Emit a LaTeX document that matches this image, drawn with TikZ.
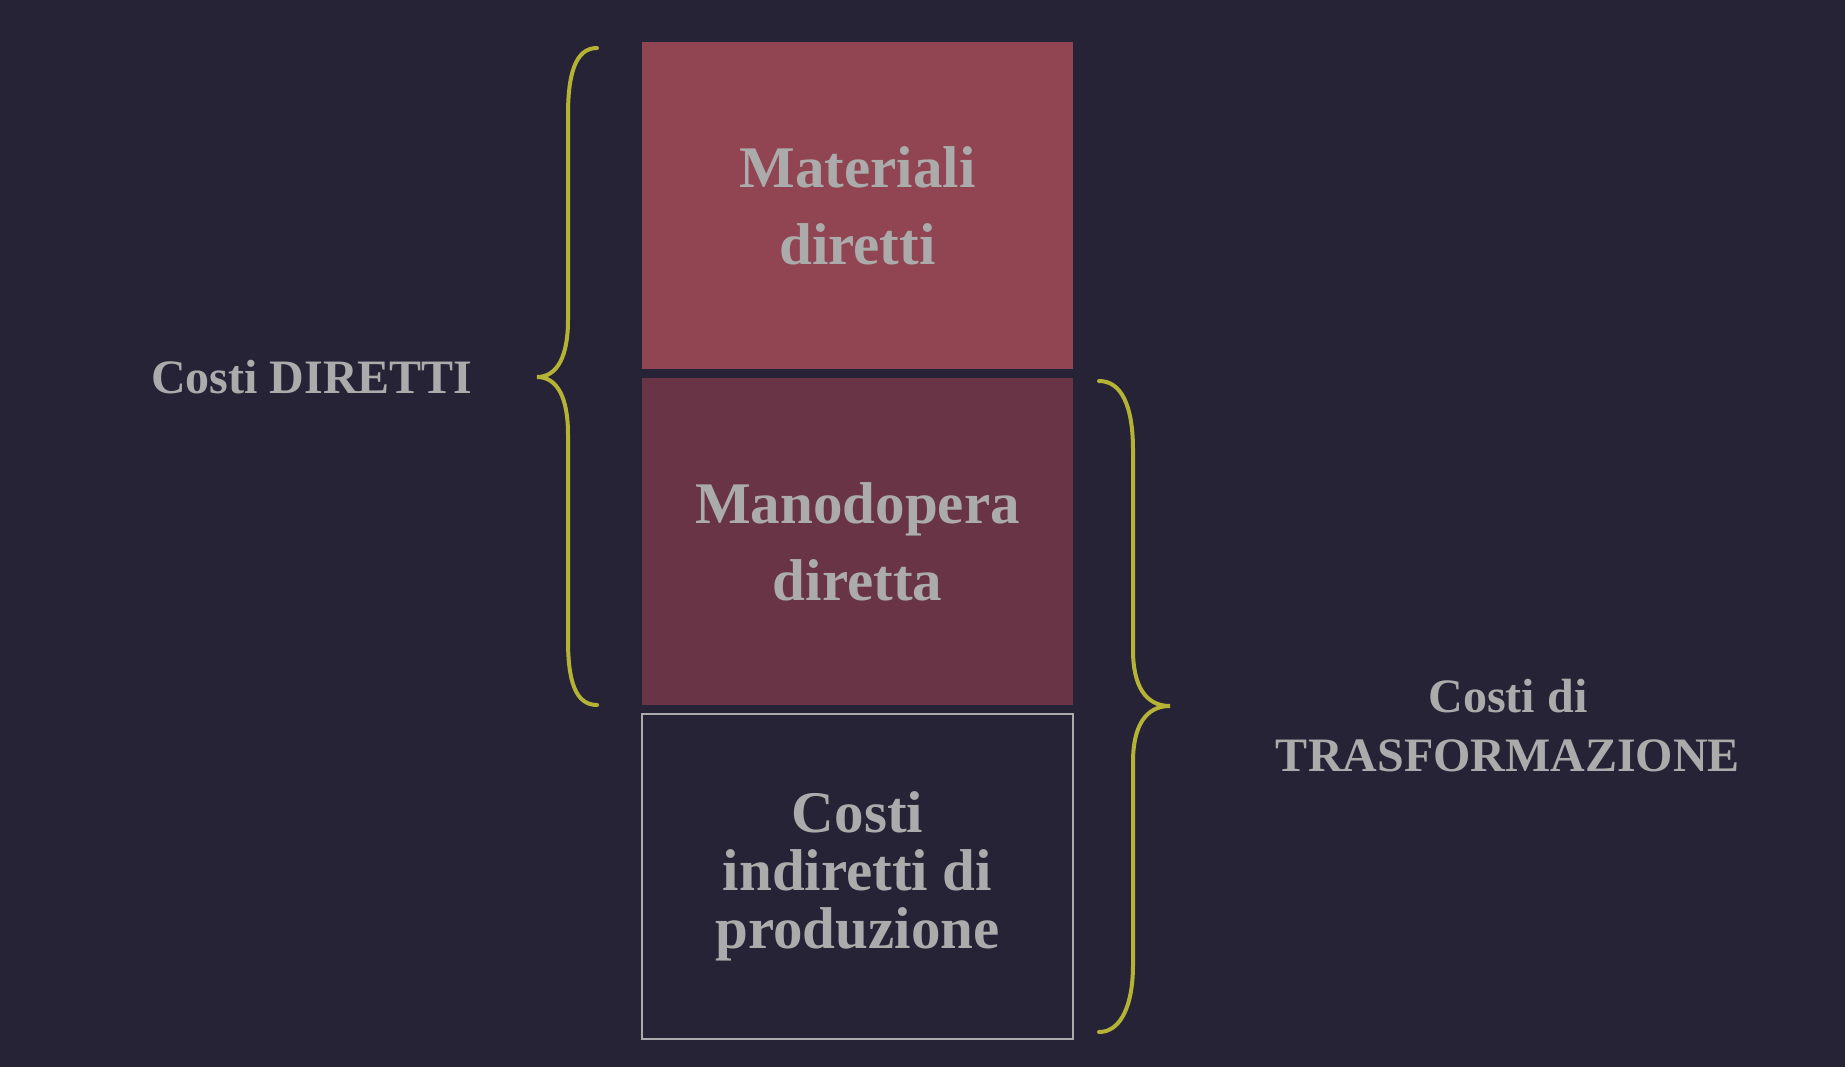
\documentclass[tikz,border=0pt]{standalone}
\usepackage{fontspec}
\setmainfont{Liberation Serif}
\definecolor{bg}{HTML}{252335}
\definecolor{boxa}{HTML}{914552}
\definecolor{boxb}{HTML}{6A3447}
\definecolor{txt}{HTML}{ABABAB}
\definecolor{brc}{HTML}{B5B335}
\tikzset{
  cbox/.style={rectangle, inner sep=0pt, minimum width=431pt, text=txt, align=center, font=\fontsize{59}{77}\selectfont\bfseries},
  sidelbl/.style={text=txt, align=center, inner sep=0pt, font=\fontsize{48}{59}\selectfont\bfseries},
  brace/.style={draw=brc, line width=4pt, line cap=round}
}
\begin{document}
\begin{tikzpicture}[x=1pt,y=-1pt]
\useasboundingbox[fill=bg] (0,0) rectangle (1845,1067);
\node[cbox, fill=boxa, minimum height=327pt] (mat) at (857.5,205.5) {Materiali\\diretti};
\node[cbox, fill=boxb, minimum height=327pt] (man) at (857.5,541.5) {Manodopera\\diretta};
\node[cbox, fill=bg, draw=txt, line width=2pt, minimum height=325pt, font=\fontsize{59}{58}\selectfont\bfseries] (cip) at (857.5,876.5) {Costi\\indiretti di\\produzione};
\node[sidelbl] (dir) at (312,377) {Costi DIRETTI};
\node[sidelbl] (tra) at (1508,726) {Costi di\\TRASFORMAZIONE};
% left brace
\coordinate (lt) at (597,48);
\coordinate (lb) at (597,705);
\coordinate (ltip) at (537,377);
\draw[brace] (lt) .. controls (575,48) and (568,75) .. (568,115)
  -- (568,320) .. controls (568,355) and (558,377) .. (ltip)
  .. controls (558,377) and (568,399) .. (568,434)
  -- (568,640) .. controls (568,680) and (575,705) .. (lb);
% right brace
\coordinate (rt) at (1099,381);
\coordinate (rb) at (1099,1032);
\coordinate (rtip) at (1170,706);
\draw[brace] (rt) .. controls (1121,381) and (1133,405) .. (1133,450)
  -- (1133,650) .. controls (1133,685) and (1145,706) .. (rtip)
  .. controls (1145,706) and (1133,727) .. (1133,762)
  -- (1133,965) .. controls (1133,1005) and (1121,1032) .. (rb);
\end{tikzpicture}
\end{document}
